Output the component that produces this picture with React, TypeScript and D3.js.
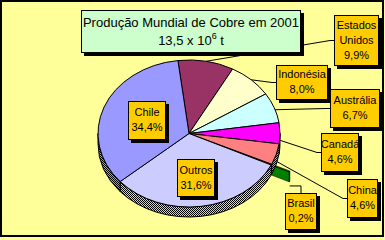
import React from "react";
import * as d3 from "d3";

// World copper production, 2001 — shares by country (%)
const categories = ["Estados Unidos", "Indonésia", "Austrália", "Canadá", "China", "Brasil", "Outros", "Chile"];
const labelNames = [["Estados", "Unidos"], ["Indonésia"], ["Austrália"], ["Canadá"], ["China"], ["Brasil"], ["Outros"], ["Chile"]];
const shares = [9.9, 8.0, 6.7, 4.6, 4.6, 0.2, 31.6, 34.4];
const sliceColors = ["#993366", "#FFFFCC", "#CCFFFF", "#FF00FF", "#FF8080", "#008000", "#CCCCFF", "#9999FF"];
const titleText = "Produção Mundial de Cobre em 2001";
const totalMantissa = "13,5 x 10";
const totalExponent = "6";
const totalUnit = " t";

const W = 385;
const H = 240;
const cx = 189;
const cy = 133.5;
const rx = 91;
const ry = 73.5;
const depth = 10;
const startDeg = -7;
const explode = [0, 0, 0, 0, 0, 0.22, 0, 0];
const FONT = "'Liberation Sans', Arial, sans-serif";

type Box = { x: number; y: number; w: number; h: number; drop: number; entry: "left" | "top" };
type Inside = { inside: true; r: number; w: number; h: number };
const labelLayout: (Box | Inside)[] = [
  { x: 334, y: 15, w: 45, h: 51, drop: 0, entry: "left" },
  { x: 276, y: 65, w: 52, h: 35, drop: 0, entry: "left" },
  { x: 330, y: 89, w: 50, h: 39, drop: 2, entry: "left" },
  { x: 321, y: 133, w: 38, h: 39, drop: 7, entry: "left" },
  { x: 347, y: 179, w: 31, h: 39, drop: 7, entry: "left" },
  { x: 285, y: 193, w: 32, h: 37, drop: 14.5, entry: "top" },
  { inside: true, r: 0.61, w: 38, h: 38 },
  { inside: true, r: 0.5, w: 38, h: 39 },
];

const fmt = (v: number) => v.toFixed(1).replace(".", ",") + "%";

// point on the top ellipse at angle t (clockwise from 12 o'clock)
const P = (t: number, k = 1, ox = 0, oy = 0): [number, number] => [
  cx + ox + rx * k * Math.sin(t),
  cy + oy - ry * k * Math.cos(t),
];
const f = (p: [number, number], dy = 0) => `${p[0].toFixed(2)},${(p[1] + dy).toFixed(2)}`;

function topFace(a: number, b: number, ox = 0, oy = 0) {
  const large = b - a > Math.PI ? 1 : 0;
  return `M${f([cx + ox, cy + oy])}L${f(P(a, 1, ox, oy))}A${rx},${ry} 0 ${large} 1 ${f(P(b, 1, ox, oy))}Z`;
}
function sideBand(a: number, b: number, ox = 0, oy = 0) {
  const large = b - a > Math.PI ? 1 : 0;
  const pa = P(a, 1, ox, oy);
  const pb = P(b, 1, ox, oy);
  return `M${f(pa)}A${rx},${ry} 0 ${large} 1 ${f(pb)}L${f(pb, depth)}A${rx},${ry} 0 ${large} 0 ${f(pa, depth)}Z`;
}

export default function App() {
  const start = (startDeg * Math.PI) / 180;
  const arcs = d3
    .pie<number>()
    .sort(null)
    .value((d) => d)
    .startAngle(start)
    .endAngle(start + 2 * Math.PI)(shares);

  const lo = Math.PI / 2;
  const hi = (3 * Math.PI) / 2;

  const offsetOf = (i: number) => {
    const m = (arcs[i].startAngle + arcs[i].endAngle) / 2;
    const e = explode[i];
    return [rx * e * Math.sin(m), -ry * e * Math.cos(m)];
  };

  return (
    <svg width={W} height={H} style={{ position: "absolute", left: 0, top: 0, display: "block" }}>
      <defs>
        {sliceColors.map((c, i) => (
          <pattern key={i} id={`dith-${i}`} width={2} height={2} patternUnits="userSpaceOnUse">
            <rect width={2} height={2} fill={c} />
            <rect width={1} height={1} fill="#000" />
            <rect x={1} y={1} width={1} height={1} fill="#000" />
          </pattern>
        ))}
      </defs>
      <rect width={W} height={H} fill="#FFFF99" />
      <rect x={1} y={1} width={382} height={235} fill="none" stroke="#000" strokeWidth={2} />

      {/* exploded slices, drawn beneath the body of the pie */}
      {arcs.map((a, i) => {
        if (!explode[i]) return null;
        const [ox, oy] = offsetOf(i);
        const c0: [number, number] = [cx + ox, cy + oy];
        const p1 = P(a.endAngle, 1, ox, oy);
        const face = `M${f(c0)}L${f(p1)}L${f(p1, depth)}L${f(c0, depth)}Z`;
        return (
          <g key={`ex-${i}`} fill={sliceColors[i]} stroke="#000" strokeWidth={0.6}>
            <path d={face} />
            <path d={sideBand(a.startAngle, a.endAngle, ox, oy)} />
            <path d={topFace(a.startAngle, a.endAngle, ox, oy)} />
          </g>
        );
      })}

      {/* leader lines */}
      {arcs.map((a, i) => {
        const L = labelLayout[i] as Box;
        if ((labelLayout[i] as Inside).inside) return null;
        const m = (a.startAngle + a.endAngle) / 2;
        const e = explode[i];
        const anchor = P(m, 1 + e);
        const ay = anchor[1] + L.drop;
        let pts: [number, number][];
        if (L.entry === "left") {
          const my = L.y + L.h / 2;
          pts = [[anchor[0], ay], [L.x - 4, my], [L.x, my]];
        } else {
          const mx = L.x + L.w / 2;
          pts = [[anchor[0], ay], [mx, ay], [mx, L.y]];
        }
        return <path key={`ld-${i}`} d={d3.line()(pts) || ""} fill="none" stroke="#000" strokeWidth={1} />;
      })}

      {/* pie body: side walls then top faces */}
      {arcs.map((a, i) => {
        if (explode[i]) return null;
        const s = Math.max(a.startAngle, lo);
        const t = Math.min(a.endAngle, hi);
        if (t <= s) return null;
        return <path key={`sd-${i}`} d={sideBand(s, t)} fill={`url(#dith-${i})`} stroke="#000" strokeWidth={1} />;
      })}
      {arcs.map((a, i) =>
        explode[i] ? null : (
          <path key={`tp-${i}`} d={topFace(a.startAngle, a.endAngle)} fill={sliceColors[i]} stroke="#000" strokeWidth={1} />
        )
      )}

      {/* title */}
      <g>
        <rect x={84} y={13} width={220} height={43} fill="#000" />
        <rect x={81.5} y={10.5} width={219} height={42} fill="#CCFFCC" stroke="#000" strokeWidth={1} />
        <text x={191} y={27} textAnchor="middle" fontFamily={FONT} fontSize={13} fill="#000">
          {titleText}
        </text>
        <text x={191} y={45} textAnchor="middle" fontFamily={FONT} fontSize={13} fill="#000">
          {totalMantissa}
          <tspan fontSize={9} dy={-6}>{totalExponent}</tspan>
          <tspan dy={6}>{totalUnit}</tspan>
        </text>
      </g>

      {/* data labels */}
      {arcs.map((a, i) => {
        const spec = labelLayout[i];
        let bx: number, by: number, bw: number, bh: number;
        if ((spec as Inside).inside) {
          const s = spec as Inside;
          const m = (a.startAngle + a.endAngle) / 2;
          const c = P(m, s.r);
          bw = s.w;
          bh = s.h;
          bx = Math.round(c[0] - bw / 2);
          by = Math.round(c[1] - bh / 2);
        } else {
          const s = spec as Box;
          bx = s.x;
          by = s.y;
          bw = s.w;
          bh = s.h;
        }
        const lines = [...labelNames[i], fmt(shares[i])];
        const n = lines.length;
        return (
          <g key={`lb-${i}`}>
            <rect x={bx + 3} y={by + 3} width={bw} height={bh} fill="#000" />
            <rect x={bx + 0.5} y={by + 0.5} width={bw - 1} height={bh - 1} fill="#FFCC00" stroke="#000" strokeWidth={1} />
            {lines.map((ln, j) => (
              <text
                key={j}
                x={bx + bw / 2}
                y={by + bh / 2 + (j - (n - 1) / 2) * 15 + 3}
                textAnchor="middle"
                fontFamily={FONT}
                fontSize={11}
                fill="#000"
              >
                {ln}
              </text>
            ))}
          </g>
        );
      })}
    </svg>
  );
}
